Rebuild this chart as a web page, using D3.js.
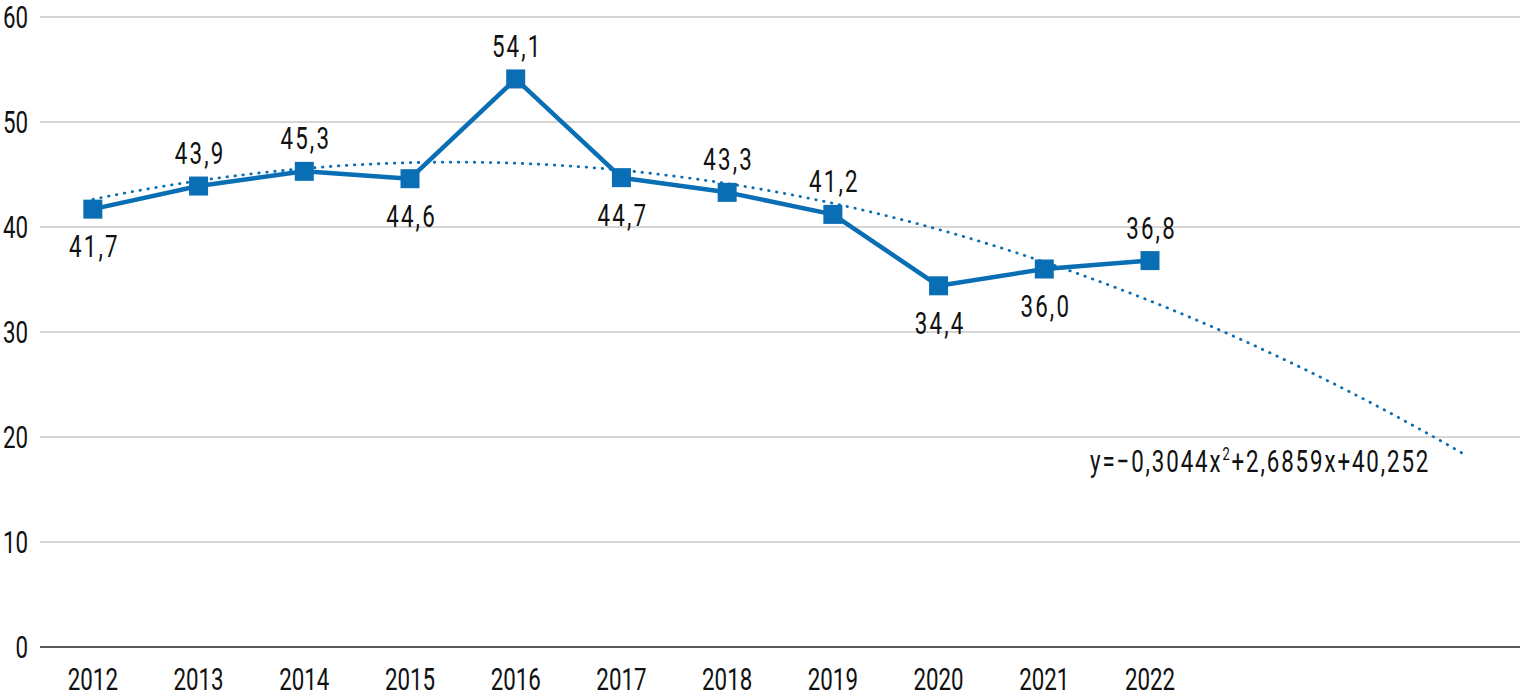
<!DOCTYPE html>
<html><head><meta charset="utf-8">
<script src="https://cdn.jsdelivr.net/npm/d3@7"></script>
<style>body{margin:0;background:#fff}svg{display:block}</style>
</head><body>
<svg id="c" width="1523" height="698"></svg>
<script>
const years = ["2012","2013","2014","2015","2016","2017","2018","2019","2020","2021","2022"];
const values = [41.7,43.9,45.3,44.6,54.1,44.7,43.3,41.2,34.4,36.0,36.8];
const labelPos = ["below","above","above","below","above","below","above","above","below","below","above"];
const yTicks = [0,10,20,30,40,50,60];
const trendCoef = [-0.3044, 2.6859, 40.252]; // a, b, c  for y = a x^2 + b x + c
const forecastPeriods = 3;

(function(){
const slots = d3.range(years.length + forecastPeriods);
const svg = d3.select("#c");
const mLeft = 40, mRight = 1520, mTop = 17, mBottom = 647;
const color = "#0a6eb4";
const FONT = "Roboto, 'DejaVu Sans', sans-serif";
const FS = 31, SX = 0.72;

const x = d3.scaleBand().domain(slots).range([mLeft, mRight]);
const cx = i => x(i) + x.bandwidth()/2;
const y = d3.scaleLinear().domain([0,60]).range([mBottom, mTop]);

function txt(g, str, tx, ty, anchor) {
  return g.append("text")
    .attr("transform", `translate(${tx},${ty}) scale(${SX},1)`)
    .attr("text-anchor", anchor || "middle")
    .attr("font-family", FONT).attr("font-size", FS)
    .attr("fill", "#111").text(str);
}

svg.append("g").selectAll("line").data(yTicks.filter(t => t > 0)).join("line")
  .attr("x1", mLeft).attr("x2", mRight)
  .attr("y1", d => y(d)).attr("y2", d => y(d))
  .attr("stroke", "#c8c8c8").attr("stroke-width", 1.5);
svg.append("line").attr("x1", mLeft).attr("x2", mRight)
  .attr("y1", y(0)).attr("y2", y(0)).attr("stroke", "#222").attr("stroke-width", 1.5);

const gy = svg.append("g");
yTicks.forEach(t => txt(gy, String(t), 28, y(t) + 11, "end"));

const gx = svg.append("g");
years.forEach((yr, i) => txt(gx, yr, cx(i), 690, "middle"));

const trendPts = d3.range(1, years.length + forecastPeriods + 0.001, 0.1).map(t => [
  mLeft + x.bandwidth()*(t - 0.5),
  trendCoef[0]*t*t + trendCoef[1]*t + trendCoef[2]
]);
svg.append("path")
  .attr("d", d3.line().x(d => d[0]).y(d => y(d[1]))(trendPts))
  .attr("fill", "none").attr("stroke", color).attr("stroke-width", 2.8)
  .attr("stroke-dasharray", "0.5 7.5").attr("stroke-linecap", "round");

svg.append("path")
  .attr("d", d3.line().x((d,i) => cx(i)).y(d => y(d))(values))
  .attr("fill", "none").attr("stroke", color).attr("stroke-width", 4.5)
  .attr("stroke-linejoin", "round");

const ms = 19;
svg.append("g").selectAll("rect").data(values).join("rect")
  .attr("x", (d,i) => cx(i) - ms/2).attr("y", d => y(d) - ms/2)
  .attr("width", ms).attr("height", ms).attr("fill", color);

const gl = svg.append("g");
values.forEach((v, i) => {
  const s = v.toFixed(1).replace(".", ",");
  const ty = labelPos[i] === "above" ? y(v) - 22 : y(v) + 48;
  txt(gl, s, cx(i) + 1.5, ty, "middle").attr("letter-spacing", 3);
});

const eq = svg.append("text")
  .attr("transform", `translate(1090,472) scale(${SX},1)`)
  .attr("font-family", FONT).attr("font-size", FS).attr("fill", "#111")
  .attr("letter-spacing", 2.6);
eq.append("tspan").text("y=\u22120,3044x");
eq.append("tspan").attr("font-size", 18).attr("dy", -12).text("2");
eq.append("tspan").attr("dy", 12).text("+2,6859x+40,252");
})();
</script>
</body></html>
